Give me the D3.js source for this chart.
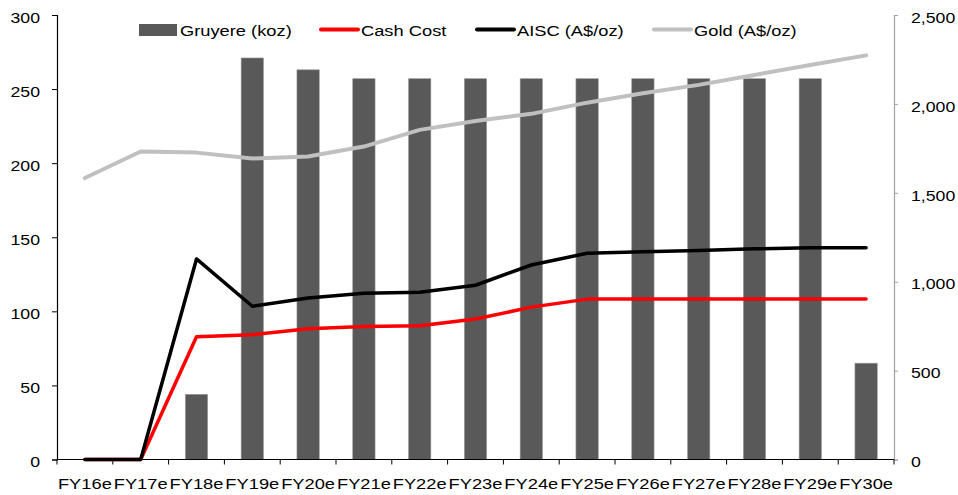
<!DOCTYPE html>
<html>
<head>
<meta charset="utf-8">
<script src="https://cdn.jsdelivr.net/npm/d3@7"></script>
<style>
  html, body { margin: 0; padding: 0; background: #fff; }
  svg { display: block; }
  text { font-family: "Liberation Sans", Arial, sans-serif; fill: #000; }
</style>
</head>
<body>
<svg id="chart" width="958" height="495"></svg>
<script>
// Financial years on the x axis
const years = ["FY16e","FY17e","FY18e","FY19e","FY20e","FY21e","FY22e","FY23e","FY24e","FY25e","FY26e","FY27e","FY28e","FY29e","FY30e"];
// Gruyere production (koz), left axis
const gruyere = [null, null, 44, 271, 263, 257, 257, 257, 257, 257, 257, 257, 257, 257, 65];
// Costs and gold price (A$/oz), right axis
const cashCost = [0, 0, 690, 702, 735, 748, 752, 790, 857, 902, 902, 902, 902, 902, 902];
const aisc     = [0, 0, 1128, 862, 908, 935, 941, 980, 1094, 1160, 1168, 1176, 1185, 1191, 1191];
const gold     = [1583, 1732, 1726, 1693, 1704, 1760, 1854, 1904, 1944, 2007, 2060, 2107, 2163, 2219, 2273];
// Axis ticks
const leftTicks  = [0, 50, 100, 150, 200, 250, 300];
const rightTicks = [0, 500, 1000, 1500, 2000, 2500];

const svg = d3.select("#chart");
const plotL = 57, plotR = 894, plotT = 15, plotB = 459.5;
const SX = 1.22; // horizontal stretch of the lettering

const x = d3.scaleBand().domain(years).range([plotL, plotR]).padding(0);
const yL = d3.scaleLinear().domain([0, 300]).range([plotB, plotT]);
const yR = d3.scaleLinear().domain([0, 2500]).range([plotB, plotT]);

function stretchText(sel) {
  sel.selectAll("text").each(function() {
    const t = d3.select(this);
    const xv = +t.attr("x") || 0;
    t.attr("x", xv / SX).attr("transform", `scale(${SX},1)`);
  });
}

// Bars
const bw = x.bandwidth() * 0.4;
svg.append("g").selectAll("rect")
  .data(years.map((d, i) => ({ year: d, v: gruyere[i] })).filter(d => d.v != null))
  .join("rect")
  .attr("x", d => x(d.year) + x.bandwidth() / 2 - bw / 2)
  .attr("width", bw)
  .attr("y", d => yL(d.v))
  .attr("height", d => yL(0) - yL(d.v))
  .attr("fill", "#595959")
  .attr("stroke", "#9a9a9a")
  .attr("stroke-width", 0.6);

// Left axis
const gl = svg.append("g").attr("transform", `translate(${plotL},0)`)
  .call(d3.axisLeft(yL).tickValues(leftTicks).tickSize(5).tickPadding(12).tickFormat(d3.format("d")));
gl.select(".domain").attr("stroke", "#000").attr("stroke-width", 1.2);
gl.selectAll(".tick line").attr("stroke", "#000");
gl.selectAll("text").attr("font-size", 14.5).attr("dy", "0.5em").attr("font-family", "Liberation Sans, Arial, sans-serif");
stretchText(gl);

// Right axis
const gr = svg.append("g").attr("transform", `translate(${plotR},0)`)
  .call(d3.axisRight(yR).tickValues(rightTicks).tickSize(4).tickPadding(13).tickFormat(d3.format(",")));
gr.select(".domain").attr("stroke", "#a0a0a0").attr("stroke-width", 1.2);
gr.selectAll(".tick line").attr("stroke", "#a0a0a0");
gr.selectAll("text").attr("font-size", 14.5).attr("dy", "0.5em").attr("font-family", "Liberation Sans, Arial, sans-serif");
stretchText(gr);

// Bottom axis: ticks at category boundaries, labels at centres
const gb = svg.append("g").attr("transform", `translate(0,${plotB})`);
gb.append("line").attr("x1", plotL).attr("x2", plotR).attr("stroke", "#000").attr("stroke-width", 1.2);
const bounds = years.map(d => x(d)).concat([plotR]);
gb.selectAll("line.tk").data(bounds).join("line").attr("class", "tk")
  .attr("x1", d => d).attr("x2", d => d).attr("y1", 0).attr("y2", 5).attr("stroke", "#000");
gb.selectAll("text").data(years).join("text")
  .attr("x", d => (x(d) + x.bandwidth() / 2) / SX)
  .attr("y", 30)
  .attr("transform", `scale(${SX},1)`)
  .attr("text-anchor", "middle")
  .attr("font-size", 15)
  .text(d => d);

// Lines
const line = d3.line()
  .x((d, i) => x(years[i]) + x.bandwidth() / 2)
  .y(d => yR(d));
function drawLine(vals, color, w) {
  svg.append("path").datum(vals)
    .attr("d", line)
    .attr("fill", "none")
    .attr("stroke", color)
    .attr("stroke-width", w)
    .attr("stroke-linejoin", "round")
    .attr("stroke-linecap", "round");
}
drawLine(gold, "#c0c0c0", 4);
drawLine(cashCost, "#ff0000", 3.5);
drawLine(aisc, "#000000", 3.5);

// Legend
const lg = svg.append("g");
const legendItems = [
  { label: "Gruyere (koz)", type: "bar", color: "#595959", x0: 139 },
  { label: "Cash Cost", type: "line", color: "#ff0000", x0: 320 },
  { label: "AISC (A$/oz)", type: "line", color: "#000000", x0: 476 },
  { label: "Gold (A$/oz)", type: "line", color: "#c0c0c0", x0: 653 }
];
legendItems.forEach(it => {
  if (it.type === "bar") {
    lg.append("rect").attr("x", it.x0).attr("y", 24).attr("width", 38).attr("height", 12).attr("fill", it.color);
  } else {
    lg.append("line").attr("x1", it.x0 + 1).attr("x2", it.x0 + 38).attr("y1", 29.5).attr("y2", 29.5)
      .attr("stroke", it.color).attr("stroke-width", 4).attr("stroke-linecap", "round");
  }
  lg.append("text")
    .attr("x", (it.x0 + 41) / SX)
    .attr("y", 36)
    .attr("transform", `scale(${SX},1)`)
    .attr("font-size", 15)
    .text(it.label);
});
</script>
</body>
</html>
